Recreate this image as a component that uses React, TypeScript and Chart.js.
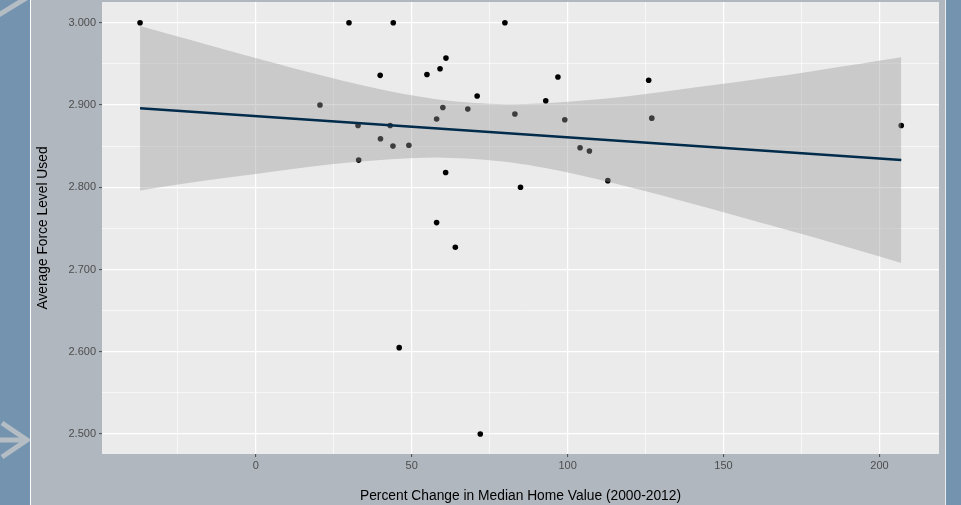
import React, { useEffect, useRef } from "react";
import { Chart, registerables } from "chart.js";

Chart.register(...registerables);

// ---- data ----
const pctChange = [
  -37.1, 29.9, 44.1, 79.9, 20.6, 39.9, 54.9, 59.1, 61.0, 71.0, 96.9, 93.0,
  126.0, 127.0, 32.8, 43.1, 40.0, 33.0, 44.0, 49.1, 58.0, 60.0, 68.0, 83.1,
  99.1, 104.0, 107.0, 112.9, 84.9, 60.9, 58.0, 64.0, 46.0, 72.0, 207.0,
];
const forceLevel = [
  3.0, 3.0, 3.0, 3.0, 2.9, 2.936, 2.937, 2.944, 2.957, 2.911, 2.934, 2.905,
  2.93, 2.884, 2.875, 2.875, 2.859, 2.833, 2.85, 2.851, 2.883, 2.897, 2.895,
  2.889, 2.882, 2.848, 2.844, 2.808, 2.8, 2.818, 2.757, 2.727, 2.605, 2.5,
  2.875,
];

const fitX = [-37.1, 207.0];
const fitY = [2.8959, 2.833];

const bandX = [-37.1, -20, 0, 20, 40, 60, 80, 100, 120, 140, 160, 180, 207.0];
const bandUpper = [2.996, 2.978, 2.957, 2.937, 2.919, 2.906, 2.901, 2.904, 2.911, 2.921, 2.931, 2.942, 2.958];
const bandLower = [2.796, 2.806, 2.816, 2.826, 2.833, 2.836, 2.831, 2.818, 2.8, 2.78, 2.759, 2.738, 2.708];

const xMajorTicks = [0, 50, 100, 150, 200];
const xMinorTicks = [-25, 25, 75, 125, 175];
const yMajorTicks = [2.5, 2.6, 2.7, 2.8, 2.9, 3.0];
const yMinorTicks = [2.55, 2.65, 2.75, 2.85, 2.95];

const xTitle = "Percent Change in Median Home Value (2000-2012)";
const yTitle = "Average Force Level Used";

const xRange = [-49.3, 219.1];
const yRange = [2.4757, 3.0252];

const FONT = "'Liberation Sans', Arial, Helvetica, sans-serif";

const isMajor = (list: number[], v: number) => list.some((m) => Math.abs(m - v) < 1e-6);

const panelBg = {
  id: "panelBg",
  beforeDraw(chart: any) {
    const { ctx, chartArea } = chart;
    if (!chartArea) return;
    ctx.save();
    ctx.fillStyle = "#EBEBEB";
    ctx.fillRect(chartArea.left, chartArea.top, chartArea.right - chartArea.left, chartArea.bottom - chartArea.top);
    ctx.restore();
  },
};

const CANVAS_SHIFT = 8;

export default function App() {
  const canvasRef = useRef<HTMLCanvasElement | null>(null);

  useEffect(() => {
    const canvas = canvasRef.current;
    if (!canvas) return;

    const points = pctChange.map((x, i) => ({ x, y: forceLevel[i] }));
    const upper = bandX.map((x, i) => ({ x, y: bandUpper[i] }));
    const lower = bandX.map((x, i) => ({ x, y: bandLower[i] }));
    const fit = fitX.map((x, i) => ({ x, y: fitY[i] }));

    const chart = new Chart(canvas, {
      type: "scatter",
      data: {
        datasets: [
          {
            label: "points",
            data: points,
            order: 3,
            showLine: false,
            pointRadius: 2.8,
            pointBackgroundColor: "#000000",
            pointBorderWidth: 0,
            pointBorderColor: "rgba(0,0,0,0)",
          } as any,
          {
            label: "upper",
            data: upper,
            order: 2,
            showLine: true,
            borderWidth: 0,
            borderColor: "rgba(0,0,0,0)",
            pointRadius: 0,
            tension: 0.35,
            fill: "+1",
            backgroundColor: "rgba(153,153,153,0.4)",
          } as any,
          {
            label: "lower",
            data: lower,
            order: 2,
            showLine: true,
            borderWidth: 0,
            borderColor: "rgba(0,0,0,0)",
            pointRadius: 0,
            tension: 0.35,
            fill: false,
          } as any,
          {
            label: "fit",
            data: fit,
            order: 0,
            showLine: true,
            borderWidth: 2.5,
            borderColor: "#012b4a",
            pointRadius: 0,
            fill: false,
          } as any,
        ],
      },
      options: {
        animation: false,
        responsive: false,
        devicePixelRatio: 1,
        layout: { padding: { left: 0, top: 2 + CANVAS_SHIFT, right: 22, bottom: 0 } },
        plugins: {
          legend: { display: false },
          tooltip: { enabled: false },
        },
        scales: {
          x: {
            type: "linear",
            min: xRange[0],
            max: xRange[1],
            afterFit: (scale: any) => {
              scale.height = 51;
            },
            afterBuildTicks: (scale: any) => {
              scale.ticks = [...xMinorTicks, ...xMajorTicks]
                .sort((a, b) => a - b)
                .map((v) => ({ value: v }));
            },
            border: { display: false },
            grid: {
              color: "#FFFFFF",
              lineWidth: (ctx: any) => (isMajor(xMajorTicks, ctx.tick?.value) ? 1.2 : 0.6),
              drawTicks: true,
              tickLength: 3,
              tickWidth: 1,
              tickColor: (ctx: any) => (isMajor(xMajorTicks, ctx.tick?.value) ? "#4d4d4d" : "rgba(0,0,0,0)"),
            },
            ticks: {
              autoSkip: false,
              maxRotation: 0,
              padding: 2,
              color: "#4d4d4d",
              font: { family: FONT, size: 11 },
              callback: (v: any) => (isMajor(xMajorTicks, Number(v)) ? String(Number(v)) : ""),
            },
            title: {
              display: true,
              text: xTitle,
              color: "#000000",
              font: { family: FONT, size: 13.8 },
              padding: { top: 0, bottom: 1 },
            },
          } as any,
          y: {
            type: "linear",
            min: yRange[0],
            max: yRange[1],
            afterFit: (scale: any) => {
              scale.width = 102;
            },
            afterBuildTicks: (scale: any) => {
              scale.ticks = [...yMinorTicks, ...yMajorTicks]
                .sort((a, b) => a - b)
                .map((v) => ({ value: v }));
            },
            border: { display: false },
            grid: {
              color: "#FFFFFF",
              lineWidth: (ctx: any) => (isMajor(yMajorTicks, ctx.tick?.value) ? 1.2 : 0.6),
              drawTicks: true,
              tickLength: 3,
              tickWidth: 1,
              tickColor: (ctx: any) => (isMajor(yMajorTicks, ctx.tick?.value) ? "#4d4d4d" : "rgba(0,0,0,0)"),
            },
            ticks: {
              autoSkip: false,
              padding: 3,
              color: "#4d4d4d",
              font: { family: FONT, size: 11 },
              callback: (v: any) => (isMajor(yMajorTicks, Number(v)) ? Number(v).toFixed(3) : ""),
            },
            title: {
              display: true,
              text: yTitle,
              color: "#000000",
              font: { family: FONT, size: 13.8 },
              padding: { top: 35, bottom: 0 },
            },
          } as any,
        },
      },
      plugins: [panelBg],
    } as any);

    return () => {
      chart.destroy();
    };
  }, []);

  return (
    <div
      style={{
        position: "fixed",
        left: 0,
        top: 0,
        width: 961,
        height: 505,
        overflow: "hidden",
        background: "#b0b7be",
      }}
    >
      <div style={{ position: "absolute", left: 0, top: 0, width: 30, height: 505, background: "#7393ae" }} />
      <div style={{ position: "absolute", left: 30, top: 0, width: 1, height: 505, background: "#ffffff" }} />
      <div style={{ position: "absolute", left: 945, top: 0, width: 1, height: 505, background: "#e8ecef" }} />
      <div style={{ position: "absolute", left: 946, top: 0, width: 15, height: 505, background: "#7393ae" }} />
      <svg width={30} height={505} style={{ position: "absolute", left: 0, top: 0 }}>
        <line x1={-3} y1={16} x2={28} y2={-3} stroke="#b4bcc4" strokeWidth={5} />
        <line x1={0} y1={440} x2={27} y2={440} stroke="#b4bcc4" strokeWidth={5} />
        <polyline points="2,423 27,440 2,457" fill="none" stroke="#b4bcc4" strokeWidth={5} />
      </svg>
      <canvas
        ref={canvasRef}
        width={961}
        height={505 + CANVAS_SHIFT}
        style={{ position: "absolute", left: 0, top: -CANVAS_SHIFT, width: 961, height: 505 + CANVAS_SHIFT }}
      />
    </div>
  );
}
